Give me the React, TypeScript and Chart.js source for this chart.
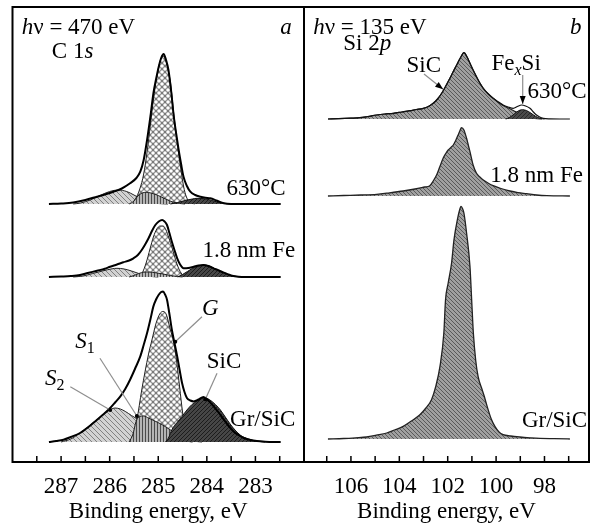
import React, { useEffect, useRef } from 'react';
import { Chart, registerables } from 'chart.js';
Chart.register(...registerables);

const FONT = "'Liberation Serif', 'Times New Roman', serif";
const AXIS_TITLE = 'Binding energy, eV';

// ---------- Panel a : C 1s (binding energy, eV ; intensity, arb. units) ----------
const A_RANGE = [282, 288];
const A_TICKS = [287.5, 287, 286.5, 286, 285.5, 285, 284.5, 284, 283.5, 283, 282.5];
const A_LABELS = [287, 286, 285, 284, 283];
const A_OFFSETS = [258, 185, 20]; // 630°C, 1.8 nm Fe, Gr/SiC

// 630°C
const A1_ENV = [[287.25,0],[287.0,0.5],[286.75,1.5],[286.5,4],[286.26,7.3],[286.1,9.5],[285.92,12.3],[285.75,15.5],[285.58,20.7],[285.45,26],[285.37,32.3],[285.3,44],[285.23,64],[285.16,88],[285.1,110.7],[285.04,126],[284.99,137.3],[284.94,146],[284.89,150],[284.84,144],[284.79,134],[284.73,111],[284.68,87.3],[284.63,70],[284.58,54],[284.53,40],[284.48,27.3],[284.41,18],[284.34,12.3],[284.24,9],[284.13,7.3],[284.03,6.3],[283.93,5.7],[283.8,3.5],[283.65,0.7],[283.5,0],[282.48,0]];
const A1_G = [[285.55,0],[285.47,5],[285.38,15],[285.3,30],[285.23,52],[285.16,80],[285.1,104],[285.03,127],[284.96,143],[284.9,148],[284.84,143],[284.79,132],[284.75,122],[284.68,90],[284.61,62],[284.55,40],[284.48,18],[284.42,7],[284.35,2],[284.25,0]];
const A1_S2 = [[286.75,0],[286.6,1],[286.4,4],[286.2,8.5],[286.0,12.5],[285.82,14],[285.65,12.5],[285.5,9],[285.35,5],[285.2,2],[285.0,0.5],[284.8,0]];
const A1_S1 = [[285.6,0],[285.5,3],[285.42,8],[285.33,11],[285.25,11.7],[285.15,11],[285.0,8.5],[284.85,5],[284.7,2],[284.55,0.5],[284.45,0]];
const A1_SIC = [[284.75,0],[284.6,1.5],[284.45,3.5],[284.3,5],[284.2,5.7],[284.1,5.5],[283.95,4.3],[283.8,2.2],[283.65,0.7],[283.5,0]];

// 1.8 nm Fe
const A2_ENV = [[287.25,0],[287.0,0.5],[286.8,1],[286.61,2],[286.45,4],[286.26,6.3],[286.1,8.3],[285.99,10.3],[285.85,12.5],[285.72,14.7],[285.6,16.5],[285.51,18.7],[285.42,22],[285.34,27],[285.27,32.5],[285.2,38.7],[285.13,46],[285.06,52],[284.99,55.5],[284.92,57],[284.87,55.5],[284.82,52],[284.77,44],[284.72,35.3],[284.66,26],[284.61,18.7],[284.55,12.5],[284.48,8.7],[284.38,9],[284.27,10.3],[284.17,11.5],[284.07,12],[283.97,11],[283.86,8.7],[283.75,6.5],[283.65,4.3],[283.55,2.5],[283.48,1.3],[283.35,0.3],[283.2,0],[282.48,0]];
const A2_G = [[285.4,0],[285.33,4],[285.25,14],[285.17,28],[285.1,40],[285.03,48],[284.96,51],[284.9,51],[284.84,47],[284.78,39],[284.72,30],[284.66,20],[284.6,11],[284.53,4],[284.45,0]];
const A2_S2 = [[286.75,0],[286.55,1],[286.35,3.5],[286.15,6],[285.95,8.2],[285.85,8.7],[285.7,8],[285.55,6],[285.4,3.5],[285.25,1.5],[285.1,0.3],[285.0,0]];
const A2_S1 = [[285.6,0],[285.5,1.5],[285.4,3.5],[285.3,4.8],[285.2,5],[285.05,4.2],[284.9,3],[284.75,1.5],[284.6,0.5],[284.5,0]];
const A2_SIC = [[284.6,0],[284.5,2.5],[284.4,5.5],[284.3,8.5],[284.2,10.5],[284.07,12],[283.95,11],[283.85,8.7],[283.75,6.3],[283.65,4.2],[283.55,2.3],[283.45,1],[283.35,0.3],[283.25,0]];

// Gr/SiC
const A3_ENV = [[287.25,0],[287.1,1],[286.95,2.3],[286.8,5],[286.61,9],[286.45,14.5],[286.26,22.3],[286.12,28],[285.99,34],[285.88,40],[285.78,45.6],[285.68,53],[285.58,62.3],[285.48,73],[285.37,85.6],[285.3,97],[285.23,109],[285.16,123],[285.1,135.6],[285.04,143],[284.99,147.3],[284.94,150],[284.9,150.6],[284.86,147.5],[284.82,142.3],[284.77,128],[284.72,112.3],[284.67,100],[284.61,85.6],[284.56,72],[284.51,59],[284.46,50],[284.41,44],[284.34,41.5],[284.27,40.6],[284.17,42.5],[284.07,45],[283.97,41.5],[283.86,35.6],[283.75,29],[283.65,22.3],[283.55,16],[283.45,10.6],[283.35,7],[283.24,4],[283.1,2],[282.97,1],[282.8,0.3],[282.65,0],[282.48,0]];
const A3_G = [[285.55,0],[285.44,22],[285.34,52],[285.2,88],[285.13,102],[285.05,118],[284.97,128],[284.9,130.6],[284.83,127],[284.75,112],[284.68,100],[284.62,80],[284.56,55],[284.5,30],[284.44,12],[284.38,3],[284.3,0]];
const A3_S2 = [[287.0,0],[286.8,3],[286.61,9],[286.45,15],[286.26,22.5],[286.1,29],[285.96,33],[285.89,34],[285.78,33],[285.68,30.6],[285.55,26.5],[285.41,22.3],[285.27,18],[285.13,14],[285.0,10.5],[284.86,7.3],[284.72,5],[284.58,3],[284.45,1.2],[284.3,0]];
const A3_S1 = [[285.6,0],[285.52,8],[285.46,20],[285.4,25],[285.3,26],[285.2,24],[285.05,20.5],[284.92,17.3],[284.78,13],[284.65,9],[284.51,5.6],[284.38,2.5],[284.25,0.8],[284.1,0]];
const A3_SIC = [[284.85,0],[284.78,5],[284.72,12.3],[284.62,19],[284.51,25.6],[284.41,32],[284.31,37.3],[284.2,41],[284.1,43.5],[284.03,44],[283.95,42.5],[283.82,37.3],[283.72,32],[283.62,25],[283.52,18],[283.42,12],[283.3,6.5],[283.14,3],[282.97,0.8],[282.8,0]];

// ---------- Panel b : Si 2p ----------
const B_RANGE = [96.16, 107.94];
const B_TICKS = [107, 106, 105, 104, 103, 102, 101, 100, 99, 98, 97];
const B_LABELS = [106, 104, 102, 100, 98];
const B_OFFSETS = [343, 266, 23]; // 630°C, 1.8 nm Fe, Gr/SiC

const B1_ENV = [[106.95,0],[106.5,0.3],[106.0,0.8],[105.63,1.3],[105.3,2.5],[104.94,4],[104.6,5],[104.25,5.7],[103.9,7],[103.56,8.3],[103.3,9.5],[103.01,10.7],[102.8,12.5],[102.6,15.7],[102.42,20],[102.25,25.7],[102.08,33],[101.91,40.7],[101.77,47.5],[101.63,54],[101.48,61],[101.33,66.3],[101.2,62],[101.08,55.7],[100.95,49],[100.81,42.3],[100.67,36],[100.53,30.7],[100.32,25],[100.12,20.7],[99.9,17],[99.71,14],[99.5,12],[99.29,10.7],[99.12,12.5],[98.95,14],[98.78,13],[98.6,10.7],[98.46,7],[98.33,4],[98.2,2],[98.05,0.7],[97.8,0.2],[96.95,0]];
const B1_SIC = [[106.95,0],[106.5,0.3],[106.0,0.8],[105.63,1.3],[105.3,2.5],[104.94,4],[104.6,5],[104.25,5.7],[103.9,7],[103.56,8.3],[103.3,9.5],[103.01,10.7],[102.8,12.5],[102.6,15.7],[102.42,20],[102.25,25.7],[102.08,33],[101.91,40.7],[101.77,47.5],[101.63,54],[101.48,61],[101.33,66.3],[101.2,62],[101.08,55.7],[100.95,49],[100.81,42.3],[100.67,36],[100.53,30.7],[100.32,25],[100.12,20.7],[99.9,16.5],[99.71,13.5],[99.5,11],[99.29,8.5],[99.1,6],[98.9,4],[98.7,2.2],[98.5,1],[98.3,0.3],[98.1,0]];
const B1_FESI = [[99.6,0],[99.45,1.5],[99.3,4],[99.15,7],[99.0,9],[98.9,9.3],[98.75,8.5],[98.6,6.5],[98.45,4],[98.3,1.8],[98.15,0.5],[98.0,0]];
const B2_ENV = [[106.95,0],[106.3,0.5],[105.6,1],[104.94,1.7],[104.4,3.2],[103.84,5],[103.35,7],[102.95,9],[102.74,10.3],[102.6,15],[102.46,21],[102.33,29],[102.19,37.7],[102.08,42.5],[101.98,46],[101.87,48.5],[101.77,51],[101.67,55.5],[101.57,61],[101.5,65],[101.43,68.3],[101.33,66],[101.22,57.7],[101.15,51],[101.08,44.3],[100.95,31],[100.81,22.7],[100.67,19],[100.53,16],[100.32,12.8],[100.12,10.3],[99.8,7.5],[99.43,5],[99.1,3.4],[98.74,2.3],[98.33,1],[97.9,0.3],[96.95,0]];
const B3_ENV = [[106.95,0],[106.3,0.5],[105.8,1.2],[105.35,2],[104.95,3.8],[104.52,6],[104.2,9],[103.84,12.6],[103.5,18],[103.15,24.3],[102.9,31],[102.67,39.3],[102.5,52],[102.32,72.6],[102.16,106],[102.09,139.3],[101.98,156],[101.84,176],[101.74,199.3],[101.6,219.3],[101.52,228],[101.45,232.6],[101.38,230],[101.33,226],[101.22,206],[101.08,172.6],[101.01,139.3],[100.94,106],[100.84,78],[100.74,62],[100.6,51],[100.48,42],[100.37,32.6],[100.2,20],[100.05,12.6],[99.88,7],[99.71,4.3],[99.4,3],[99.02,2],[98.6,1.2],[98.19,0.6],[97.6,0.3],[96.95,0]];

type Seg = { t: string; it?: boolean; sub?: boolean };
type Note = { segs: Seg[]; e: number; v: number; align?: 'left' | 'right' };
type Leader = { e1: number; v1: number; e2: number; v2: number; end: 'dot' | 'arrow' };

const A_NOTES: Note[] = [
  { segs: [{ t: 'h', it: true }, { t: 'ν = 470 eV' }], e: 287.81, v: 428.5 },
  { segs: [{ t: 'a', it: true }], e: 282.49, v: 428.5 },
  { segs: [{ t: 'C 1' }, { t: 's', it: true }], e: 287.19, v: 403.7 },
  { segs: [{ t: '630°C' }], e: 282.38, v: 267, align: 'right' },
  { segs: [{ t: '1.8 nm Fe' }], e: 282.18, v: 204.7, align: 'right' },
  { segs: [{ t: 'Gr/SiC' }], e: 282.18, v: 36, align: 'right' },
  { segs: [{ t: 'G', it: true }], e: 284.1, v: 147 },
  { segs: [{ t: 'SiC' }], e: 284.0, v: 93.7 },
  { segs: [{ t: 'S', it: true }, { t: '1', sub: true }], e: 286.71, v: 113.7 },
  { segs: [{ t: 'S', it: true }, { t: '2', sub: true }], e: 287.33, v: 77 },
];
const A_LEADERS: Leader[] = [
  { e1: 284.1, v1: 145.3, e2: 284.65, v2: 120.3, end: 'dot' },
  { e1: 283.79, v1: 88.7, e2: 284.03, v2: 62.7, end: 'dot' },
  { e1: 286.2, v1: 103.7, e2: 285.44, v2: 46, end: 'dot' },
  { e1: 286.81, v1: 75.3, e2: 285.99, v2: 52, end: 'dot' },
];
const B_NOTES: Note[] = [
  { segs: [{ t: 'h', it: true }, { t: 'ν = 135 eV' }], e: 107.56, v: 428.5 },
  { segs: [{ t: 'b', it: true }], e: 96.95, v: 428.5 },
  { segs: [{ t: 'Si 2' }, { t: 'p', it: true }], e: 106.32, v: 412 },
  { segs: [{ t: 'SiC' }], e: 103.7, v: 390.3 },
  { segs: [{ t: 'Fe' }, { t: 'x', it: true, sub: true }, { t: 'Si' }], e: 100.19, v: 392 },
  { segs: [{ t: '630°C' }], e: 96.26, v: 363.7, align: 'right' },
  { segs: [{ t: '1.8 nm Fe' }], e: 96.41, v: 280.3, align: 'right' },
  { segs: [{ t: 'Gr/SiC' }], e: 96.24, v: 35.5, align: 'right' },
];
const B_LEADERS: Leader[] = [
  { e1: 102.98, v1: 388, e2: 102.19, v2: 372.7, end: 'arrow' },
  { e1: 98.9, v1: 387, e2: 98.9, v2: 358, end: 'arrow' },
];

function tile(size: number, draw: (c: CanvasRenderingContext2D, s: number) => void) {
  const cv = document.createElement('canvas');
  cv.width = size; cv.height = size;
  const c = cv.getContext('2d') as CanvasRenderingContext2D;
  draw(c, size);
  return cv;
}
function hatch(ctx: CanvasRenderingContext2D, size: number, bg: string, fg: string, lw: number, dir: 'back' | 'fwd' | 'vert') {
  const t = tile(size, (c, s) => {
    c.fillStyle = bg; c.fillRect(0, 0, s, s);
    c.strokeStyle = fg; c.lineWidth = lw;
    c.beginPath();
    if (dir === 'vert') { c.moveTo(s / 2, 0); c.lineTo(s / 2, s); }
    else {
      for (let k = -1; k <= 1; k++) {
        if (dir === 'back') { c.moveTo(k * s, 0); c.lineTo(k * s + s, s); }
        else { c.moveTo(k * s, s); c.lineTo(k * s + s, 0); }
      }
    }
    c.stroke();
  });
  return ctx.createPattern(t, 'repeat') as CanvasPattern;
}
function dotsPattern(ctx: CanvasRenderingContext2D) {
  const t = tile(6, (c, s) => {
    c.fillStyle = '#7a7a7a'; c.fillRect(0, 0, s, s);
    c.fillStyle = '#ffffff';
    for (const [x, y] of [[0, 0], [s, 0], [0, s], [s, s], [s / 2, s / 2]]) {
      c.beginPath(); c.arc(x, y, 1.8, 0, Math.PI * 2); c.fill();
    }
  });
  return ctx.createPattern(t, 'repeat') as CanvasPattern;
}

function series(pairs: number[][], off: number, o: { bg?: any; border: string; bw: number; order: number; fill: boolean }) {
  return {
    data: pairs.map(([e, i]) => ({ x: e, y: off + i })),
    fill: o.fill ? { value: off } : false,
    backgroundColor: o.bg || 'transparent',
    borderColor: o.border,
    borderWidth: o.bw,
    pointRadius: 0,
    cubicInterpolationMode: 'monotone',
    order: o.order,
  };
}

function drawRich(ctx: CanvasRenderingContext2D, segs: Seg[], x: number, y: number, align: string) {
  const fontOf = (s: Seg) => `${s.it ? 'italic ' : ''}${s.sub ? 16 : 23}px ${FONT}`;
  let w = 0;
  for (const s of segs) { ctx.font = fontOf(s); w += ctx.measureText(s.t).width; }
  let cx = align === 'right' ? x - w : x;
  ctx.textAlign = 'left'; ctx.textBaseline = 'alphabetic'; ctx.fillStyle = '#000';
  for (const s of segs) {
    ctx.font = fontOf(s);
    ctx.fillText(s.t, cx, y + (s.sub ? 5 : 0));
    cx += ctx.measureText(s.t).width;
  }
}

function overlay(ticks: number[], notes: Note[], leaders: Leader[]) {
  return {
    id: 'overlay',
    afterDatasetsDraw(chart: any) {
      const { ctx, chartArea: a, scales } = chart;
      const X = (e: number) => scales.x.getPixelForValue(e);
      const Y = (v: number) => scales.y.getPixelForValue(v);
      ctx.save();
      ctx.strokeStyle = '#000'; ctx.lineWidth = 1.5;
      ctx.beginPath();
      for (const t of ticks) { const x = X(t); ctx.moveTo(x, a.bottom); ctx.lineTo(x, a.bottom - 6); }
      ctx.stroke();
      ctx.lineWidth = 2;
      ctx.strokeRect(a.left, a.top, a.right - a.left, a.bottom - a.top);
      for (const l of leaders) {
        const x1 = X(l.e1), y1 = Y(l.v1), x2 = X(l.e2), y2 = Y(l.v2);
        ctx.strokeStyle = '#8e8e8e'; ctx.lineWidth = 1.2;
        ctx.beginPath(); ctx.moveTo(x1, y1); ctx.lineTo(x2, y2); ctx.stroke();
        ctx.fillStyle = '#000';
        if (l.end === 'dot') {
          ctx.beginPath(); ctx.arc(x2, y2, 2, 0, Math.PI * 2); ctx.fill();
        } else {
          const ang = Math.atan2(y2 - y1, x2 - x1);
          const L = 8, W = 3;
          ctx.beginPath();
          ctx.moveTo(x2, y2);
          ctx.lineTo(x2 - L * Math.cos(ang) + W * Math.sin(ang), y2 - L * Math.sin(ang) - W * Math.cos(ang));
          ctx.lineTo(x2 - L * Math.cos(ang) - W * Math.sin(ang), y2 - L * Math.sin(ang) + W * Math.cos(ang));
          ctx.closePath(); ctx.fill();
        }
      }
      for (const n of notes) drawRich(ctx, n.segs, X(n.e), Y(n.v), n.align || 'left');
      ctx.restore();
    },
  };
}

function makeChart(canvas: HTMLCanvasElement, datasets: any[], range: number[], ticks: number[], labels: number[], pad: any, notes: Note[], leaders: Leader[]) {
  return new Chart(canvas, {
    type: 'line',
    data: { datasets },
    options: {
      animation: false,
      responsive: false,
      devicePixelRatio: 1,
      events: [],
      layout: { padding: pad },
      plugins: { legend: { display: false }, tooltip: { enabled: false } },
      scales: {
        x: {
          type: 'linear', reverse: true, min: range[0], max: range[1],
          afterBuildTicks: (s: any) => { s.ticks = ticks.map((v) => ({ value: v })); },
          afterFit: (s: any) => { s.height = 67; },
          grid: { display: false, drawTicks: false },
          border: { display: false },
          ticks: {
            autoSkip: false, maxRotation: 0, padding: 11, color: '#000',
            font: { family: FONT, size: 23 },
            callback: (v: any) => (labels.includes(Number(v)) ? String(v) : ''),
          },
          title: { display: true, text: AXIS_TITLE, color: '#000', font: { family: FONT, size: 23 }, padding: { top: 0, bottom: 3 } },
        },
        y: { display: false, min: 0, max: 455 },
      },
    } as any,
    plugins: [overlay(ticks, notes, leaders) as any],
  });
}

export default function App() {
  const refA = useRef<HTMLCanvasElement>(null);
  const refB = useRef<HTMLCanvasElement>(null);
  useEffect(() => {
    const ca = refA.current as HTMLCanvasElement;
    const cb = refB.current as HTMLCanvasElement;
    const ctx = ca.getContext('2d') as CanvasRenderingContext2D;
    const pG = dotsPattern(ctx);
    const pS2 = hatch(ctx, 5, '#d2d2d2', '#808080', 1, 'back');
    const pS1 = hatch(ctx, 3, '#b4b4b4', '#4a4a4a', 1, 'vert');
    const pSiC = hatch(ctx, 4, '#464646', '#1c1c1c', 1, 'fwd');
    const pB = hatch(ctx, 4, '#a0a0a0', '#5a5a5a', 1, 'back');
    const pFe = hatch(ctx, 4, '#4a4a4a', '#2a2a2a', 1, 'fwd');

    const aSets: any[] = [];
    const aGroups = [
      [A1_ENV, A1_G, A1_S2, A1_S1, A1_SIC],
      [A2_ENV, A2_G, A2_S2, A2_S1, A2_SIC],
      [A3_ENV, A3_G, A3_S2, A3_S1, A3_SIC],
    ];
    aGroups.forEach(([env, g, s2, s1, sic], k) => {
      const off = A_OFFSETS[k];
      aSets.push(series(env, off, { border: '#000', bw: 2, order: 0, fill: false }));
      aSets.push(series(sic, off, { bg: pSiC, border: '#111', bw: 1, order: 1, fill: true }));
      aSets.push(series(s1, off, { bg: pS1, border: '#222', bw: 1, order: 2, fill: true }));
      aSets.push(series(g, off, { bg: pG, border: '#222', bw: 1, order: 3, fill: true }));
      aSets.push(series(s2, off, { bg: pS2, border: '#222', bw: 1, order: 4, fill: true }));
    });
    const bSets: any[] = [
      series(B1_ENV, B_OFFSETS[0], { border: '#111', bw: 1.2, order: 0, fill: false }),
      series(B1_FESI, B_OFFSETS[0], { bg: pFe, border: '#111', bw: 1, order: 1, fill: true }),
      series(B1_SIC, B_OFFSETS[0], { bg: pB, border: '#222', bw: 1.2, order: 2, fill: true }),
      series(B2_ENV, B_OFFSETS[1], { bg: pB, border: '#222', bw: 1.3, order: 3, fill: true }),
      series(B3_ENV, B_OFFSETS[2], { bg: pB, border: '#222', bw: 1.3, order: 4, fill: true }),
    ];
    const chA = makeChart(ca, aSets, A_RANGE, A_TICKS, A_LABELS, { left: 12.5, right: 1, top: 7, bottom: 0 }, A_NOTES, A_LEADERS);
    const chB = makeChart(cb, bSets, B_RANGE, B_TICKS, B_LABELS, { left: 1, right: 4, top: 7, bottom: 0 }, B_NOTES, B_LEADERS);
    return () => { chA.destroy(); chB.destroy(); };
  }, []);
  return (
    <div style={{ position: 'absolute', left: 0, top: 0, width: 593, height: 529, background: '#fff' }}>
      <canvas ref={refA} width={305} height={529} style={{ position: 'absolute', left: 0, top: 0, width: 305, height: 529 }} />
      <canvas ref={refB} width={290} height={529} style={{ position: 'absolute', left: 303, top: 0, width: 290, height: 529 }} />
    </div>
  );
}
